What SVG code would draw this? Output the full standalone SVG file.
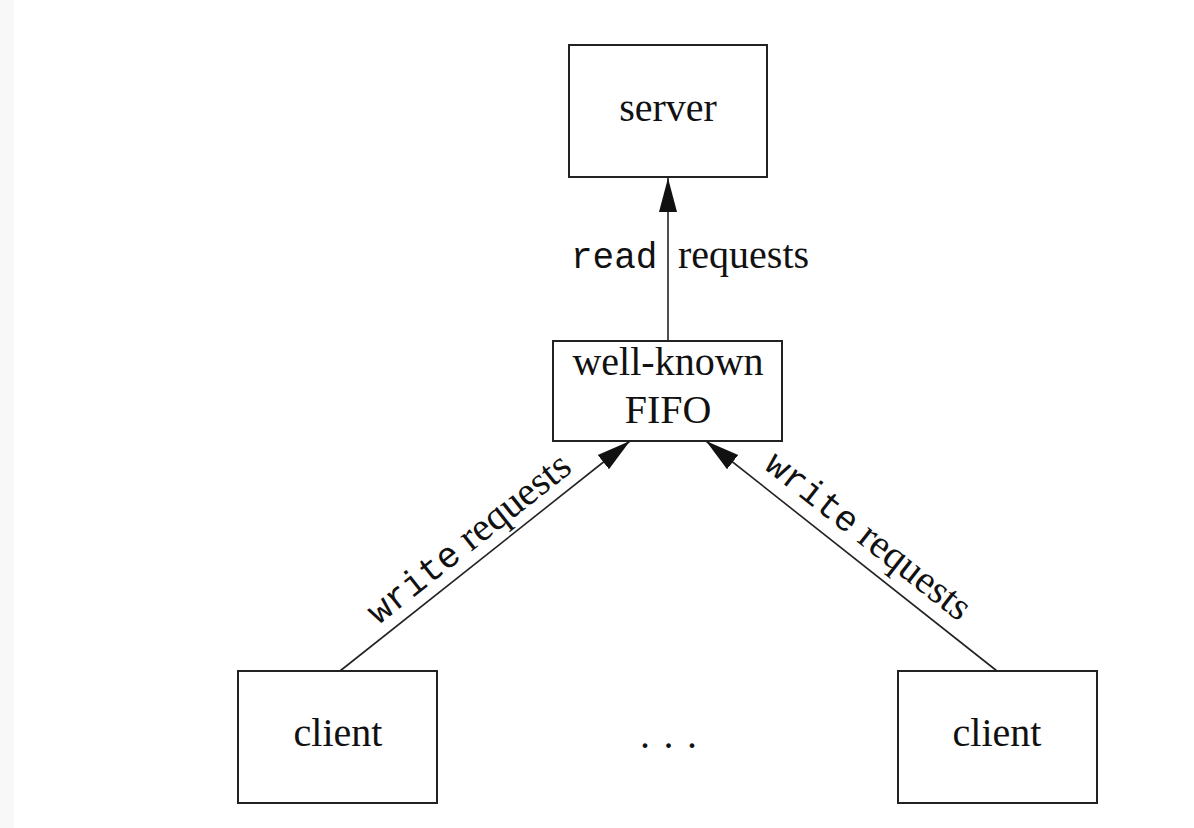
<svg xmlns="http://www.w3.org/2000/svg" width="1194" height="828" viewBox="0 0 1194 828">
<style>
.box{fill:#fff;stroke:#222;stroke-width:2}
.t{font-family:"Liberation Serif",serif;font-size:40px;fill:#111;text-anchor:middle}
.m{font-family:"Liberation Mono",monospace;font-size:36px}
.s{font-family:"Liberation Serif",serif;font-size:40px}
.lbl{fill:#111}
.edge{stroke:#222;stroke-width:1.6;fill:none}
</style>
<defs>
<marker id="ah" viewBox="0 0 34 20" refX="34" refY="10" markerWidth="34" markerHeight="20" markerUnits="userSpaceOnUse" orient="auto">
<path d="M0,1 L34,10 L0,19 Z" fill="#111"/>
</marker>
</defs>
<rect x="0" y="0" width="1194" height="828" fill="#fff"/>
<rect x="0" y="0" width="14" height="828" fill="#f8f8f8"/>
<g id="connectors">
<line class="edge" x1="668" y1="341" x2="668" y2="178" marker-end="url(#ah)"/>
<line class="edge" x1="340" y1="671" x2="630" y2="441" marker-end="url(#ah)"/>
<line class="edge" x1="997" y1="671" x2="706" y2="441" marker-end="url(#ah)"/>
<text class="lbl" y="268"><tspan class="m" x="571">read</tspan><tspan class="s" x="678">requests</tspan></text>
<text class="lbl" text-anchor="middle" transform="translate(476,548) rotate(-38.4)"><tspan class="m">write</tspan><tspan class="s"> requests</tspan></text>
<text class="lbl" text-anchor="middle" transform="translate(861,545) rotate(38.2)"><tspan class="m">write</tspan><tspan class="s"> requests</tspan></text>
</g>
<g id="server">
<rect class="box" x="569" y="45" width="198" height="132"/>
<text class="t" x="668" y="121">server</text>
</g>
<g id="fifo">
<rect class="box" x="553" y="341" width="229" height="100"/>
<text class="t" x="668" y="375">well-known</text>
<text class="t" x="668" y="423">FIFO</text>
</g>
<g id="client1">
<rect class="box" x="238" y="671" width="199" height="132"/>
<text class="t" x="338" y="746">client</text>
</g>
<g id="client2">
<rect class="box" x="898" y="671" width="199" height="132"/>
<text class="t" x="997" y="746">client</text>
</g>
<g id="ellipsis">
<text class="t" style="text-anchor:start" x="640 663.5 687" y="748">...</text>
</g>
</svg>
